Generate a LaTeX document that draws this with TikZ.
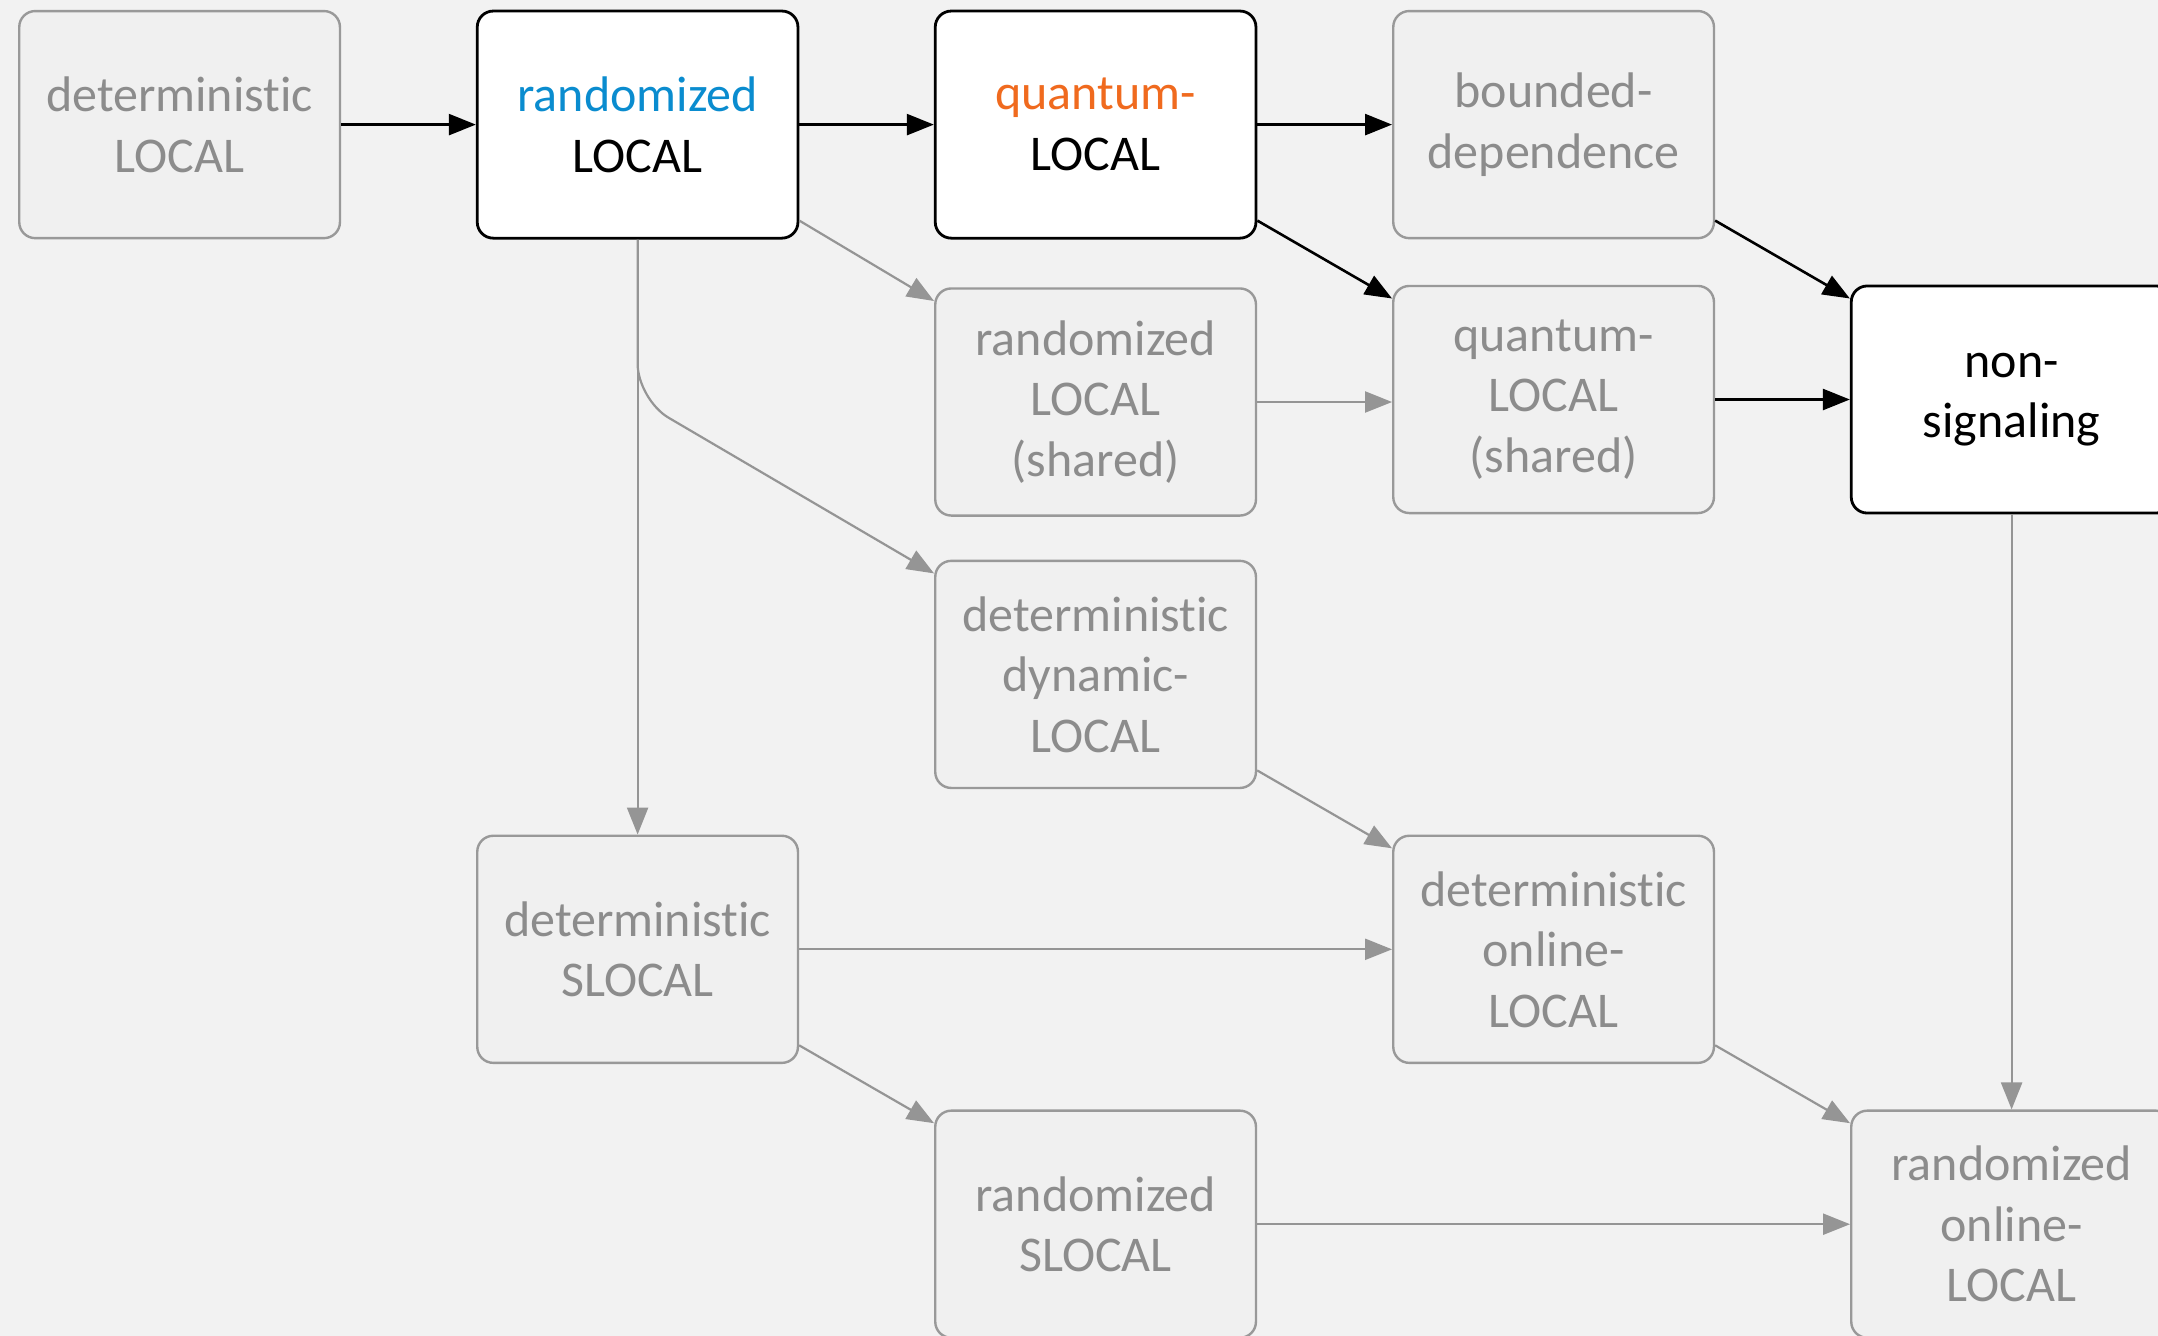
\documentclass[tikz,border=0pt]{standalone}
\usepackage{fontspec}
\setmainfont{Carlito}[Ligatures={NoCommon,NoContextual}]
\usetikzlibrary{arrows.meta,calc}
\definecolor{bg}{HTML}{F2F2F2}
\definecolor{boxfill}{HTML}{F0F0F0}
\definecolor{boxline}{HTML}{999999}
\definecolor{dimtext}{HTML}{8C8C8C}
\definecolor{arrowgray}{HTML}{959595}
\definecolor{rblue}{HTML}{0A8CCF}
\definecolor{qorange}{HTML}{F06A1E}
\begin{document}
\begin{tikzpicture}[x=1pt,y=-1pt,
  box/.style={rectangle, rounded corners=16pt, minimum width=320.7pt,
    minimum height=227.1pt, inner sep=0pt, align=center,
    font=\fontsize{50}{60.5}\selectfont},
  dim/.style={box, draw=boxline, fill=boxfill, text=dimtext, line width=2.4pt},
  lit/.style={box, draw=black, fill=white, text=black, line width=2.8pt},
  darrow/.style={-{Triangle[length=27pt,width=21pt]}, line width=2.6pt, draw=black},
  garrow/.style={-{Triangle[length=27pt,width=21pt]}, line width=2.2pt, draw=arrowgray},
]
\useasboundingbox (0,0) rectangle (2158,1336);
\clip (0,0) rectangle (2158,1336);
\fill[bg] (0,0) rectangle (2158,1336);

% models
\node[dim] (dl)  at (179.6,124.6)  {deterministic\\LOCAL};
\node[lit] (rl)  at (637.6,124.6)  {\textcolor{rblue}{randomized}\\LOCAL};
\node[lit] (ql)  at (1095.6,124.6) {\textcolor{qorange}{quantum-}\\LOCAL};
\node[dim] (bd)  at (1553.6,124.6) {bounded-\\dependence};
\node[dim] (rls) at (1095.6,402)   {randomized\\LOCAL\\(shared)};
\node[dim] (qls) at (1553.6,399.5) {quantum-\\LOCAL\\(shared)};
\node[lit] (ns)  at (2011.6,399.5) {non-\\signaling};
\node[dim] (ddl) at (1095.6,674.4) {deterministic\\dynamic-\\LOCAL};
\node[dim] (ds)  at (637.6,949.3)  {deterministic\\SLOCAL};
\node[dim] (dol) at (1553.6,949.3) {deterministic\\online-\\LOCAL};
\node[dim] (rs)  at (1095.6,1224.2) {randomized\\SLOCAL};
\node[dim] (rol) at (2011.6,1224.2) {randomized\\online-\\LOCAL};

% bend of the branch towards the dynamic model
\coordinate (bend) at ($(rl.south)+(0,160)$);

% strict inclusions
\draw[darrow] (dl.east) -- (rl.west);
\draw[darrow] (rl.east) -- (ql.west);
\draw[darrow] (ql.east) -- (bd.west);
\draw[darrow] ([yshift=-96pt]ql.east) -- ([yshift=101pt]qls.west);
\draw[darrow] ([yshift=-96pt]bd.east) -- ([yshift=101pt]ns.west);
\draw[darrow] (qls.east) -- (ns.west);

% other simulations
\draw[garrow] ([yshift=-96pt]rl.east) -- ([yshift=101pt]rls.west);
\draw[garrow] (rls.east) -- (rls.east -| qls.west);
\draw[garrow, rounded corners=36pt] (rl.south) -- (bend) -- ([yshift=101pt]ddl.west);
\draw[garrow] (rl.south) -- (ds.north);
\draw[garrow] ([yshift=-96pt]ddl.east) -- ([yshift=101pt]dol.west);
\draw[garrow] (ds.east) -- (dol.west);
\draw[garrow] ([yshift=-96pt]ds.east) -- ([yshift=101pt]rs.west);
\draw[garrow] ([yshift=-96pt]dol.east) -- ([yshift=101pt]rol.west);
\draw[garrow] (ns.south) -- (rol.north);
\draw[garrow] (rs.east) -- (rol.west);
\end{tikzpicture}
\end{document}
